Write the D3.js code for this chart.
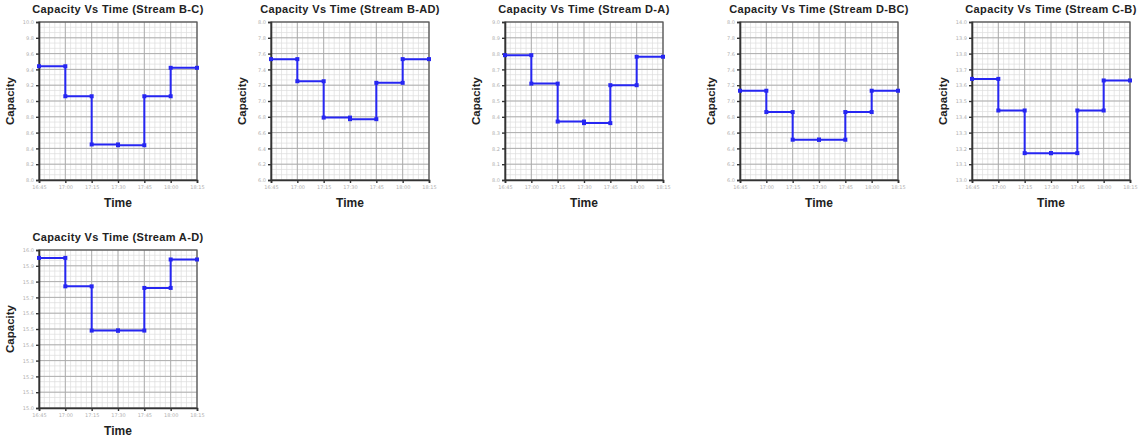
<!DOCTYPE html>
<html>
<head>
<meta charset="utf-8">
<script src="https://cdn.jsdelivr.net/npm/d3@7"></script>
<style>
  html, body { margin: 0; padding: 0; background: #fff; }
  svg { display: block; }
</style>
</head>
<body>
<svg id="chart" width="1140" height="441"></svg>
<script>
// ---- data ----
const timeLabels = ["16:45", "17:00", "17:15", "17:30", "17:45", "18:00", "18:15"];
const streamNames = ["B-C", "B-AD", "D-A", "D-BC", "C-B", "A-D"];
// capacity for each 15-minute interval (step after), plus last point value
const capBC  = [9.44, 9.06, 8.45, 8.44, 9.06, 9.42];
const capBAD = [7.53, 7.25, 6.79, 6.77, 7.23, 7.53];
const capDA  = [8.79, 8.61, 8.37, 8.36, 8.60, 8.78];
const capDBC = [7.13, 6.86, 6.51, 6.51, 6.86, 7.13];
const capCB  = [13.64, 13.44, 13.17, 13.17, 13.44, 13.63];
const capAD  = [15.95, 15.77, 15.49, 15.49, 15.76, 15.94];
const yMins  = [8.0, 6.0, 8.0, 6.0, 13.0, 15.0];
const yMaxs  = [10.0, 8.0, 9.0, 8.0, 14.0, 16.0];
const yTickCounts = [10, 10, 10, 10, 10, 10];
const seriesList = [capBC, capBAD, capDA, capDBC, capCB, capAD];

// ---- layout ----
const plotW = 158, plotH = 158;
const origins = [
  [39, 22], [271, 22], [505, 22], [740, 22], [972, 22],
  [39, 250]
];

const svg = d3.select("#chart");

seriesList.forEach((vals, k) => {
  const [ox, oy] = origins[k];
  const g = svg.append("g").attr("transform", `translate(${ox},${oy})`);

  const x = d3.scaleLinear().domain([0, timeLabels.length - 1]).range([0, plotW]);
  const y = d3.scaleLinear().domain([yMins[k], yMaxs[k]]).range([plotH, 0]);
  const step = (yMaxs[k] - yMins[k]) / yTickCounts[k];
  const yTicks = d3.range(yTickCounts[k] + 1).map(i => yMins[k] + i * step);

  // minor grid
  const xMinor = d3.range(0, (timeLabels.length - 1) * 5 + 1).map(i => i / 5);
  const yMinor = d3.range(0, yTickCounts[k] * 3 + 1).map(i => yMins[k] + i * step / 3);
  g.append("g").selectAll("line").data(xMinor).join("line")
    .attr("x1", d => x(d)).attr("x2", d => x(d)).attr("y1", 0).attr("y2", plotH)
    .attr("stroke", "#dcdcdc").attr("stroke-width", 0.7);
  g.append("g").selectAll("line").data(yMinor).join("line")
    .attr("y1", d => y(d)).attr("y2", d => y(d)).attr("x1", 0).attr("x2", plotW)
    .attr("stroke", "#dcdcdc").attr("stroke-width", 0.7);
  // major grid
  g.append("g").selectAll("line").data(d3.range(timeLabels.length)).join("line")
    .attr("x1", d => x(d)).attr("x2", d => x(d)).attr("y1", 0).attr("y2", plotH)
    .attr("stroke", "#a8a8a8").attr("stroke-width", 0.9);
  g.append("g").selectAll("line").data(yTicks).join("line")
    .attr("y1", d => y(d)).attr("y2", d => y(d)).attr("x1", 0).attr("x2", plotW)
    .attr("stroke", "#a8a8a8").attr("stroke-width", 0.9);

  // frame
  g.append("rect").attr("x", 0).attr("y", 0).attr("width", plotW).attr("height", plotH)
    .attr("fill", "none").attr("stroke", "#555").attr("stroke-width", 1.2);

  // axes
  const yAxis = d3.axisLeft(y).tickValues(yTicks).tickFormat(d3.format(".1f")).tickSize(3).tickPadding(2);
  const xAxis = d3.axisBottom(x).tickValues(d3.range(timeLabels.length))
    .tickFormat(i => timeLabels[i]).tickSize(3).tickPadding(2);
  const ya = g.append("g").call(yAxis);
  const xa = g.append("g").attr("transform", `translate(0,${plotH})`).call(xAxis);
  [ya, xa].forEach(a => {
    a.select(".domain").attr("stroke", "#333").attr("stroke-width", 1.6);
    a.selectAll(".tick line").attr("stroke", "#333").attr("stroke-width", 1.4);
    a.selectAll("text").attr("fill", "#b0b0b0").attr("font-size", 5)
      .attr("font-family", "DejaVu Sans, sans-serif");
  });

  // step line
  const pts = vals.map((v, i) => [i, v]);
  pts.push([timeLabels.length - 1, vals[vals.length - 1]]);
  const line = d3.line().x(d => x(d[0])).y(d => y(d[1])).curve(d3.curveStepAfter);
  g.append("path").datum(pts).attr("d", line)
    .attr("fill", "none").attr("stroke", "#2626f2").attr("stroke-width", 2);

  // markers at both ends of each horizontal segment
  const marks = [];
  vals.forEach((v, i) => { marks.push([i, v]); marks.push([i + 1, v]); });
  g.append("g").selectAll("rect").data(marks).join("rect")
    .attr("x", d => x(d[0]) - 2).attr("y", d => y(d[1]) - 2)
    .attr("width", 4).attr("height", 4).attr("fill", "#2626f2");

  // title
  g.append("text").attr("x", plotW / 2).attr("y", -9).attr("text-anchor", "middle")
    .attr("font-family", "Liberation Sans, Arial, sans-serif").attr("font-weight", "bold")
    .attr("font-size", 11).attr("letter-spacing", 0.35).attr("fill", "#222")
    .text(`Capacity Vs Time (Stream ${streamNames[k]})`);
  // axis titles
  g.append("text").attr("x", plotW / 2).attr("y", plotH + 27).attr("text-anchor", "middle")
    .attr("font-family", "Liberation Sans, Arial, sans-serif").attr("font-weight", "bold")
    .attr("font-size", 12).attr("fill", "#222").text("Time");
  g.append("text").attr("transform", `translate(-25,${plotH / 2}) rotate(-90)`)
    .attr("text-anchor", "middle")
    .attr("font-family", "Liberation Sans, Arial, sans-serif").attr("font-weight", "bold")
    .attr("font-size", 11.5).attr("fill", "#222").text("Capacity");
});
</script>
</body>
</html>
